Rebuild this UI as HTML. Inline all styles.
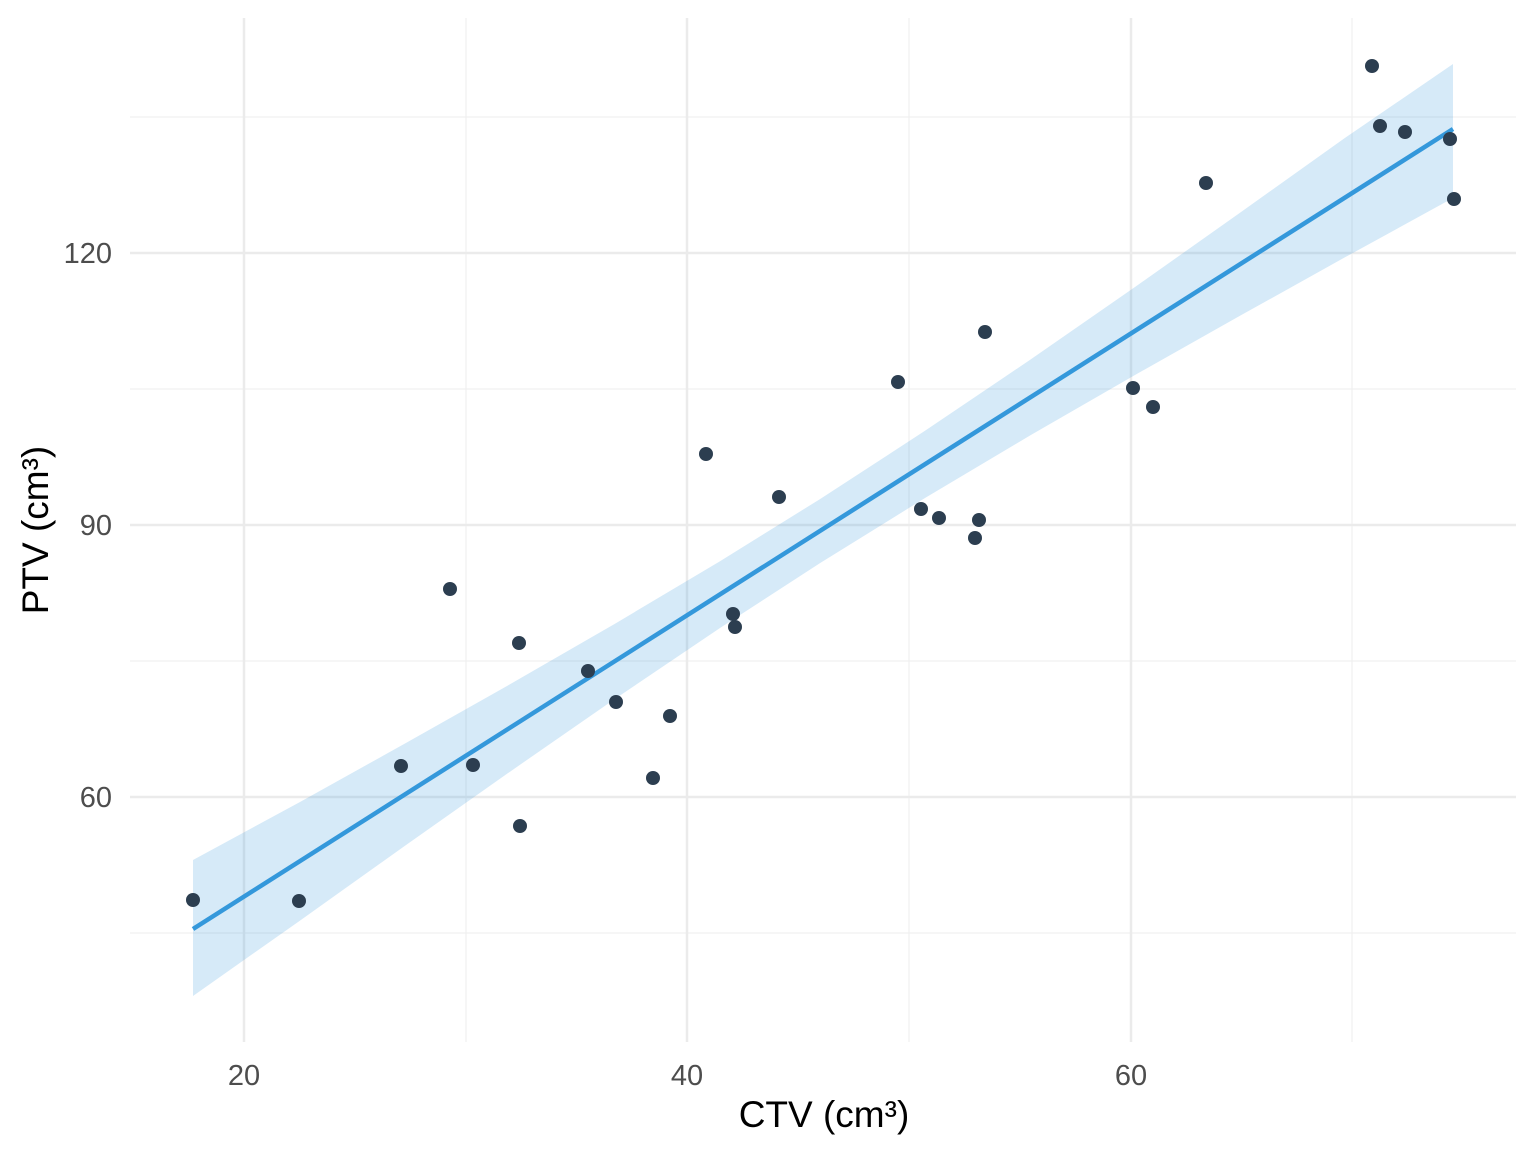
<!DOCTYPE html>
<html><head><meta charset="utf-8"><style>
html,body{margin:0;padding:0;background:#fff;}
svg{display:block;}
text{font-family:"Liberation Sans",Arial,sans-serif;}
</style></head><body>
<svg width="1536" height="1152" viewBox="0 0 1536 1152">
<rect width="1536" height="1152" fill="#fff"/>
<g stroke="#f0f0f0" stroke-width="1.2">
<line x1="130" x2="1516" y1="117" y2="117"/>
<line x1="130" x2="1516" y1="389" y2="389"/>
<line x1="130" x2="1516" y1="661" y2="661"/>
<line x1="130" x2="1516" y1="933" y2="933"/>
<line x1="466" x2="466" y1="18" y2="1042"/>
<line x1="909" x2="909" y1="18" y2="1042"/>
<line x1="1352" x2="1352" y1="18" y2="1042"/>
</g>
<g stroke="#ebebeb" stroke-width="2.5">
<line x1="130" x2="1516" y1="253" y2="253"/>
<line x1="130" x2="1516" y1="525" y2="525"/>
<line x1="130" x2="1516" y1="797" y2="797"/>
<line x1="244" x2="244" y1="18" y2="1042"/>
<line x1="687" x2="687" y1="18" y2="1042"/>
<line x1="1131" x2="1131" y1="18" y2="1042"/>
</g>
<polygon fill="#3498db" fill-opacity="0.2" points="193,860 300,802 405,743.5 510,684.3 615,623.7 720,561.2 820,499.1 925,430.8 1030,359.9 1135,287 1240,212.8 1345,137.9 1453,64 1453,198 1345,257.3 1240,315.8 1135,375 1030,435.5 925,498 820,563.1 720,628 615,698.9 510,771.7 405,845.7 300,920.6 193,996"/>
<line x1="193" y1="929" x2="1453" y2="129" stroke="#3498db" stroke-width="4.5"/>
<g fill="#2c3e50" transform="translate(1,1)">
<circle cx="192" cy="899" r="7"/><circle cx="298" cy="900" r="7"/><circle cx="400" cy="765" r="7"/><circle cx="449" cy="588" r="7"/><circle cx="472" cy="764" r="7"/><circle cx="518" cy="642" r="7"/><circle cx="519" cy="825" r="7"/><circle cx="587" cy="670" r="7"/><circle cx="615" cy="701" r="7"/><circle cx="652" cy="777" r="7"/><circle cx="669" cy="715" r="7"/><circle cx="705" cy="453" r="7"/><circle cx="732" cy="613" r="7"/><circle cx="734" cy="626" r="7"/><circle cx="778" cy="496" r="7"/><circle cx="897" cy="381" r="7"/><circle cx="920" cy="508" r="7"/><circle cx="938" cy="517" r="7"/><circle cx="974" cy="537" r="7"/><circle cx="978" cy="519" r="7"/><circle cx="984" cy="331" r="7"/><circle cx="1132" cy="387" r="7"/><circle cx="1152" cy="406" r="7"/><circle cx="1205" cy="182" r="7"/><circle cx="1371" cy="65" r="7"/><circle cx="1379" cy="125" r="7"/><circle cx="1404" cy="131" r="7"/><circle cx="1449" cy="138" r="7"/><circle cx="1453" cy="198" r="7"/>
</g>
<g fill="#4d4d4d" font-size="29">
<text x="112" y="263" text-anchor="end">120</text>
<text x="112" y="535" text-anchor="end">90</text>
<text x="112" y="807" text-anchor="end">60</text>
<text x="244" y="1085" text-anchor="middle">20</text>
<text x="687" y="1085" text-anchor="middle">40</text>
<text x="1131" y="1085" text-anchor="middle">60</text>
</g>
<text x="824" y="1127" text-anchor="middle" font-size="37" fill="#000">CTV (cm³)</text>
<text transform="translate(48,530) rotate(-90)" text-anchor="middle" font-size="37" fill="#000">PTV (cm³)</text>
</svg>
</body></html>
